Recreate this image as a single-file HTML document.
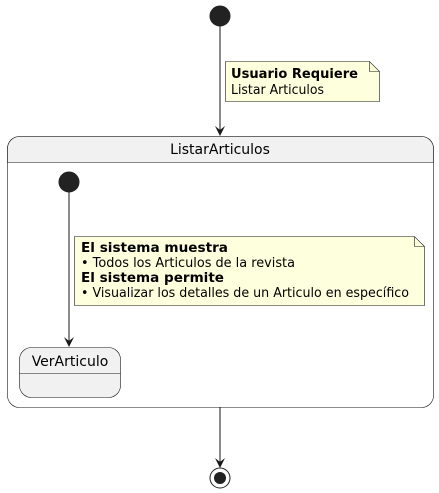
<!DOCTYPE html>
<html><head><meta charset="utf-8"><style>
html,body{margin:0;padding:0;background:#fff;}
svg{display:block;}
text{font-family:"DejaVu Sans","Liberation Sans",sans-serif;fill:#000;}
</style></head><body>
<svg width="439" height="493" viewBox="0 0 439 493" xmlns="http://www.w3.org/2000/svg">
<!-- top initial -->
<circle cx="220" cy="16" r="10" fill="#222" stroke="#222"/>
<line x1="220" y1="26" x2="220" y2="135" stroke="#181818" stroke-width="1"/>
<path d="M215,126 L220,136 L225,126 L220,130 Z" fill="#181818"/>
<!-- note 1 -->
<path d="M225.5,61.5 L369.5,61.5 L379.5,71.5 L379.5,101.5 L225.5,101.5 Z" fill="#FEFFDD" stroke="#181818" stroke-width="0.6"/>
<path d="M369.5,61.5 L369.5,71.5 L379.5,71.5" fill="none" stroke="#181818" stroke-width="0.6"/>
<text x="231" y="78" font-size="13" font-weight="bold" textLength="127" lengthAdjust="spacingAndGlyphs">Usuario Requiere</text>
<text x="231" y="94" font-size="13" textLength="93" lengthAdjust="spacingAndGlyphs">Listar Articulos</text>
<!-- composite state -->
<rect x="7.5" y="136.5" width="426" height="271" rx="12" fill="#fff" stroke="#181818" stroke-width="0.6"/>
<path d="M7.5,162.5 L7.5,148.5 A12,12 0 0 1 19.5,136.5 L421.5,136.5 A12,12 0 0 1 433.5,148.5 L433.5,162.5 Z" fill="#F1F1F1" stroke="#181818" stroke-width="0.6"/>
<text x="220" y="154" font-size="14" text-anchor="middle">ListarArticulos</text>
<!-- inner initial -->
<circle cx="69" cy="182" r="10" fill="#222" stroke="#222"/>
<line x1="69" y1="192" x2="69" y2="346" stroke="#181818" stroke-width="1"/>
<path d="M64,337 L69,347 L74,337 L69,341 Z" fill="#181818"/>
<!-- note 2 -->
<path d="M74.5,236.5 L414.5,236.5 L424.5,246.5 L424.5,305.5 L74.5,305.5 Z" fill="#FEFFDD" stroke="#181818" stroke-width="0.6"/>
<path d="M414.5,236.5 L414.5,246.5 L424.5,246.5" fill="none" stroke="#181818" stroke-width="0.6"/>
<text x="81" y="252" font-size="13" font-weight="bold" textLength="147" lengthAdjust="spacingAndGlyphs">El sistema muestra</text>
<text x="81" y="267" font-size="13" textLength="214" lengthAdjust="spacingAndGlyphs">• Todos los Articulos de la revista</text>
<text x="81" y="282" font-size="13" font-weight="bold" textLength="143" lengthAdjust="spacingAndGlyphs">El sistema permite</text>
<text x="81" y="297" font-size="13" textLength="328" lengthAdjust="spacingAndGlyphs">• Visualizar los detalles de un Articulo en específico</text>
<!-- VerArticulo -->
<rect x="19.5" y="347.5" width="101" height="50" rx="12" fill="#F1F1F1" stroke="#181818" stroke-width="0.6"/>
<line x1="19.5" y1="373.5" x2="120.5" y2="373.5" stroke="#181818" stroke-width="0.6"/>
<text x="70" y="366" font-size="14" text-anchor="middle">VerArticulo</text>
<!-- to final -->
<line x1="220" y1="407" x2="220" y2="467" stroke="#181818" stroke-width="1"/>
<path d="M215,458 L220,468 L225,458 L220,462 Z" fill="#181818"/>
<circle cx="220" cy="478" r="10" fill="none" stroke="#222" stroke-width="1"/>
<circle cx="220" cy="478" r="6" fill="#222"/>
</svg>
</body></html>
